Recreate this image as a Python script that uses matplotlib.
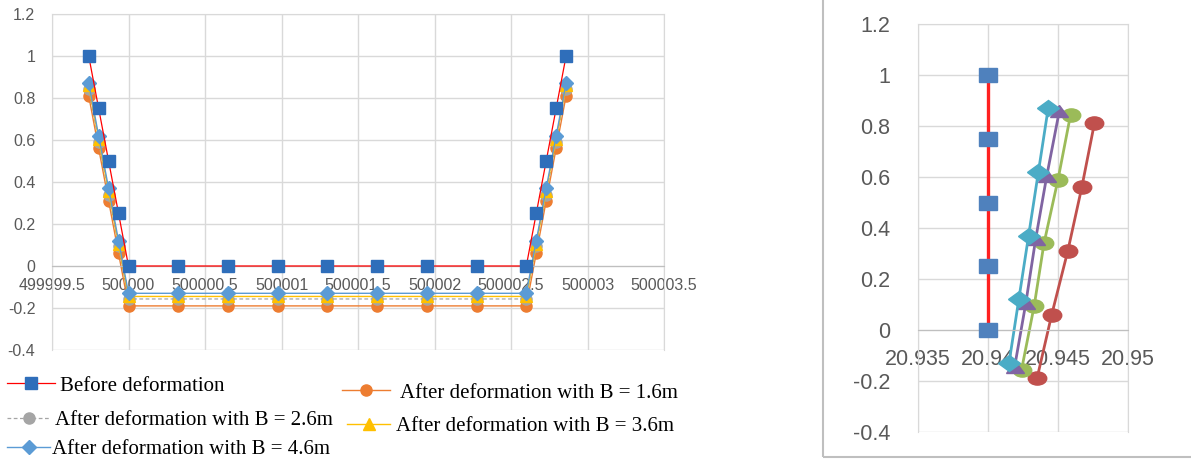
import numpy as np
import matplotlib
matplotlib.use('Agg')
import matplotlib.pyplot as plt
from matplotlib.lines import Line2D
from matplotlib.markers import MarkerStyle
from matplotlib.transforms import Affine2D
from matplotlib.patches import Rectangle

# ---------------- datos ----------------
# Grafico izquierdo: perfil completo
x_profile = [499999.74, 499999.805, 499999.87, 499999.935, 500000.0,
             500000.325, 500000.65, 500000.975, 500001.3, 500001.625,
             500001.95, 500002.275, 500002.6,
             500002.665, 500002.73, 500002.795, 500002.86]
y_before = [1, 0.75, 0.5, 0.25, 0, 0, 0, 0, 0, 0, 0, 0, 0, 0.25, 0.5, 0.75, 1]
y_b16 = [0.81, 0.56, 0.31, 0.06] + [-0.19] * 9 + [0.06, 0.31, 0.56, 0.81]
y_b26 = [0.845, 0.59, 0.34, 0.095] + [-0.157] * 9 + [0.095, 0.34, 0.59, 0.845]
y_b36 = [0.86, 0.605, 0.355, 0.105] + [-0.145] * 9 + [0.105, 0.355, 0.605, 0.86]
y_b46 = [0.87, 0.62, 0.37, 0.12] + [-0.13] * 9 + [0.12, 0.37, 0.62, 0.87]

left_xticks = [499999.5, 500000, 500000.5, 500001, 500001.5,
               500002, 500002.5, 500003, 500003.5]
left_xlabels = ['499999.5', '500000', '500000.5', '500001', '500001.5',
                '500002', '500002.5', '500003', '500003.5']
left_yticks = [-0.4, -0.2, 0, 0.2, 0.4, 0.6, 0.8, 1, 1.2]
left_ylabels = ['-0.4', '-0.2', '0', '0.2', '0.4', '0.6', '0.8', '1', '1.2']

labels = ['Before deformation',
          'After deformation with B = 1.6m',
          'After deformation with B = 2.6m',
          'After deformation with B = 3.6m',
          'After deformation with B = 4.6m']

# Grafico derecho: detalle del borde
r_x_before = [20.94, 20.94, 20.94, 20.94, 20.94]
r_y_before = [1, 0.75, 0.5, 0.25, 0]
r_x_16 = [20.9476, 20.9467, 20.9457, 20.94455, 20.9435]
r_y_16 = [0.81, 0.56, 0.31, 0.06, -0.19]
r_x_26 = [20.9459, 20.9450, 20.9440, 20.9433, 20.9424]
r_y_26 = [0.845, 0.59, 0.34, 0.095, -0.155]
r_x_36 = [20.9451, 20.9442, 20.9434, 20.9427, 20.9419]
r_y_36 = [0.86, 0.605, 0.355, 0.105, -0.145]
r_x_46 = [20.9443, 20.9436, 20.9429, 20.9422, 20.9415]
r_y_46 = [0.87, 0.62, 0.37, 0.12, -0.13]

right_xticks = [20.935, 20.94, 20.945, 20.95]
right_xlabels = ['20.935', '20.94', '20.945', '20.95']

# ---------------- figura ----------------
W, H = 1191, 461
fig = plt.figure(figsize=(W / 100, H / 100), dpi=100)
grid_c = '#D9D9D9'
tick_c = '#595959'
sans = 'Liberation Sans'
serif = 'Liberation Serif'


def px(x0, y0, x1, y1):
    return [x0 / W, 1 - y1 / H, (x1 - x0) / W, (y1 - y0) / H]


# ---- grafico 1 ----
ax1 = fig.add_axes(px(52, 14, 664, 350))
ax1.set_xlim(499999.5, 500003.5)
ax1.set_ylim(-0.4, 1.2)
ax1.set_xticks(left_xticks)
ax1.set_xticklabels(left_xlabels)
ax1.set_yticks(left_yticks)
ax1.set_yticklabels(left_ylabels)
ax1.grid(True, color=grid_c, lw=1)
ax1.set_axisbelow(True)
for s in ['top', 'right', 'left']:
    ax1.spines[s].set_color(grid_c)
ax1.spines['bottom'].set_position(('data', 0))
ax1.spines['bottom'].set_color('#BFBFBF')
ax1.tick_params(length=0, labelsize=11.5, colors=tick_c)
ax1.tick_params(axis='x', pad=9)
ax1.tick_params(axis='y', pad=12)
for t in ax1.get_xticklabels() + ax1.get_yticklabels():
    t.set_fontfamily(sans)

h_before, = ax1.plot(x_profile, y_before, color='#FF0000', lw=0.9,
                     marker='s', ms=8.5, mfc='#2F6EBA', mec='#2F6EBA', zorder=3)
h16, = ax1.plot(x_profile, y_b16, color='#ED7D31', lw=1,
                marker='o', ms=8, mfc='#ED7D31', mec='#ED7D31')
h26, = ax1.plot(x_profile, y_b26, color='#A5A5A5', lw=0.9, ls=(0, (3, 2)),
                marker='o', ms=8, mfc='#A5A5A5', mec='#A5A5A5')
h36, = ax1.plot(x_profile, y_b36, color='#FFC000', lw=1,
                marker='^', ms=8.5, mfc='#FFC000', mec='#FFC000')
h46, = ax1.plot(x_profile, y_b46, color='#5B9BD5', lw=1,
                marker='D', ms=7, mfc='#5B9BD5', mec='#5B9BD5')

# leyenda (entradas sueltas como en el original)
# (handle, texto, x, y, largo de linea, separacion al texto)
entries = [(h_before, labels[0], 7, 386, 2.3, 0.24),
           (h16, labels[1], 342, 393, 2.3, 0.48),
           (h26, labels[2], 7, 420, 2.07, 0.24),
           (h36, labels[3], 347, 426, 2.07, 0.3),
           (h46, labels[4], 7, 449, 2.07, 0.1)]
for h, lab, lx, ly, hl, tp in entries:
    fig.legend([h], [lab], loc='center left',
               bbox_to_anchor=(lx / W, 1 - ly / H),
               frameon=False, handlelength=hl, handletextpad=tp,
               borderpad=0, borderaxespad=0,
               prop={'family': serif, 'size': 15})

# ---- grafico 2 ----
fig.add_artist(Rectangle((823 / W, 4 / H), (W + 5 - 823) / W, (H + 5) / H,
                         transform=fig.transFigure, fill=False,
                         ec='#BFBFBF', lw=1.5))

ax2 = fig.add_axes(px(918, 24, 1128, 432))
ax2.set_xlim(20.935, 20.95)
ax2.set_ylim(-0.4, 1.2)
ax2.set_xticks(right_xticks)
ax2.set_xticklabels(right_xlabels)
ax2.set_yticks(left_yticks)
ax2.set_yticklabels(left_ylabels)
ax2.grid(True, color=grid_c, lw=1)
ax2.set_axisbelow(True)
for s in ['top', 'right', 'left']:
    ax2.spines[s].set_color(grid_c)
ax2.spines['bottom'].set_position(('data', 0))
ax2.spines['bottom'].set_color('#BFBFBF')
ax2.tick_params(length=0, labelsize=15.5, colors=tick_c)
ax2.tick_params(axis='x', pad=14)
ax2.tick_params(axis='y', pad=20)
for t in ax2.get_xticklabels() + ax2.get_yticklabels():
    t.set_fontfamily(sans)

stretch = Affine2D().scale(1.4, 1.0)


def mk(m):
    return MarkerStyle(m, transform=stretch)


ax2.plot(r_x_before, r_y_before, color='#FF2020', lw=2.4,
         marker=mk('s'), ms=9.5, mfc='#4F81BD', mec='#4F81BD', zorder=3)
ax2.plot(r_x_16, r_y_16, color='#C0504D', lw=2,
         marker=mk('o'), ms=9.5, mfc='#C0504D', mec='#C0504D')
ax2.plot(r_x_26, r_y_26, color='#9BBB59', lw=2,
         marker=mk('o'), ms=9.5, mfc='#9BBB59', mec='#9BBB59')
ax2.plot(r_x_36, r_y_36, color='#8064A2', lw=2,
         marker=mk('^'), ms=9, mfc='#8064A2', mec='#8064A2')
ax2.plot(r_x_46, r_y_46, color='#4BACC6', lw=2,
         marker=mk('D'), ms=8, mfc='#4BACC6', mec='#4BACC6')

fig.savefig('out.png', dpi=100)
